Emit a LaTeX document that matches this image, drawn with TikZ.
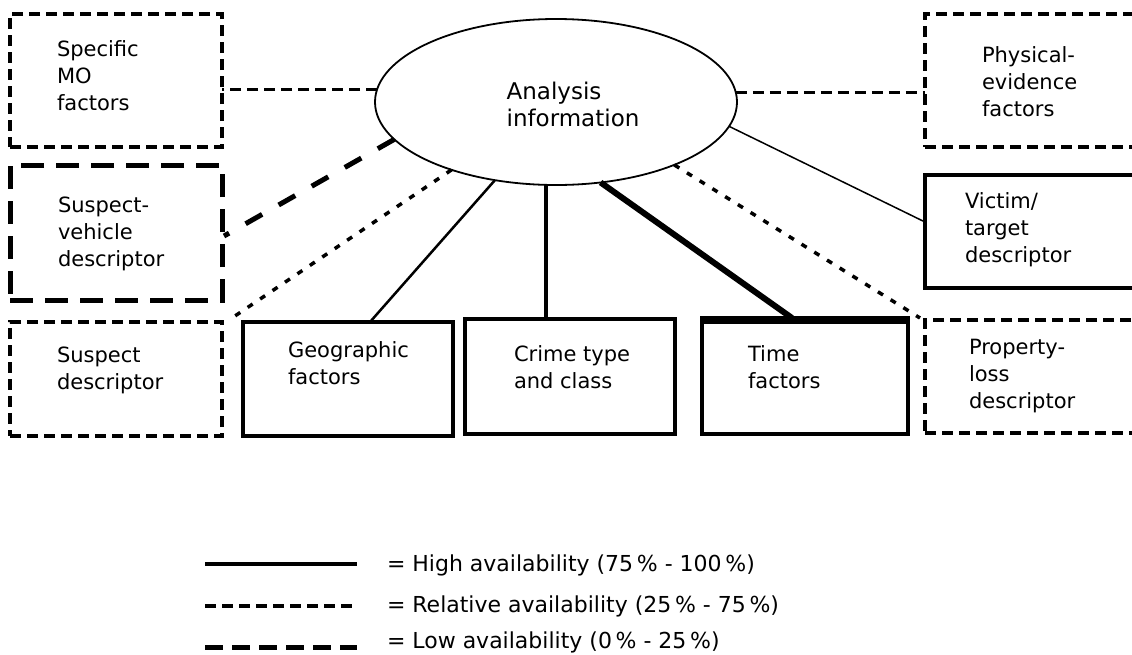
\documentclass[tikz,border=0pt]{standalone}
\usepackage{fontspec}
\setmainfont{DejaVu Sans}
\usetikzlibrary{shapes.geometric,calc}
\begin{document}
\begin{tikzpicture}[x=1pt,y=-1pt,
  every node/.style={inner sep=0pt, outer sep=0pt},
  boxtxt/.style={font=\fontsize{21}{27}\selectfont, align=left, anchor=west},
  elltxt/.style={font=\fontsize{23}{27}\selectfont, align=left},
  legtxt/.style={font=\fontsize{22}{27}\selectfont, anchor=west},
  solidbox/.style={draw, rectangle, line width=4pt},
  relbox/.style={draw, rectangle, line width=3.2pt, dash pattern=on 11pt off 6pt},
  lowbox/.style={draw, rectangle, line width=5pt, dash pattern=on 23pt off 12pt},
  relline/.style={line width=3.2pt, dash pattern=on 11pt off 6pt},
  reldiag/.style={line width=3.5pt, dash pattern=on 6pt off 9pt},
  lowline/.style={line width=5pt, dash pattern=on 19pt off 19pt},
  lowleg/.style={line width=5pt, dash pattern=on 18pt off 9pt},
  highline/.style={line width=4pt},
  thinline/.style={line width=1.5pt},
  geoline/.style={line width=2.5pt},
  crimeline/.style={line width=3.5pt},
  timeline/.style={line width=6pt}
]
\useasboundingbox (0,0) rectangle (1132,654);
\clip (0,0) rectangle (1132,654);
\fill[white] (0,0) rectangle (1132,654);

% central ellipse
\node[ellipse, draw, line width=1.8pt, minimum width=362pt, minimum height=166pt] (ell) at (556,102) {};
\node[elltxt] (ellT) at ($(ell.center)+(17,2)$) {Analysis\\information};

% boxes
\node[relbox, minimum width=212pt, minimum height=133pt] (mo) at (116,80.5) {};
\node[lowbox, minimum width=212pt, minimum height=135pt] (veh) at (116,232.5) {};
\node[relbox, minimum width=212pt, minimum height=114pt] (sus) at (116,379) {};
\node[solidbox, minimum width=210pt, minimum height=114pt] (geo) at (348,379) {};
\node[solidbox, minimum width=210pt, minimum height=115pt] (crime) at (570,376.5) {};
\node[solidbox, minimum width=206pt, minimum height=116pt] (time) at (805,376) {};
\node[relbox, minimum width=225pt, minimum height=133pt] (phys) at (1037.5,80.5) {};
\node[solidbox, minimum width=225pt, minimum height=113pt] (vic) at (1037.5,231.5) {};
\node[relbox, minimum width=225pt, minimum height=113pt] (prop) at (1037.5,376.5) {};
\draw[line width=8pt] ($(time.north west)+(-2,2)$) -- ($(time.north east)+(2,2)$);

% box texts
\node[boxtxt] (moT) at ($(mo.west)+(47,-5)$) {Specific\\MO\\factors};
\node[boxtxt] (vehT) at ($(veh.west)+(48,1)$) {Suspect-\\vehicle\\descriptor};
\node[boxtxt] (susT) at ($(sus.west)+(47,-9)$) {Suspect\\descriptor};
\node[boxtxt] (geoT) at ($(geo.west)+(45,-15.5)$) {Geographic\\factors};
\node[boxtxt] (crimeT) at ($(crime.west)+(49,-9)$) {Crime type\\and class};
\node[boxtxt] (timeT) at ($(time.west)+(46,-8.5)$) {Time\\factors};
\node[boxtxt] (physT) at ($(phys.west)+(57,1.5)$) {Physical-\\evidence\\factors};
\node[boxtxt] (vicT) at ($(vic.west)+(40,-2)$) {Victim/\\target\\descriptor};
\node[boxtxt] (propT) at ($(prop.west)+(44,0)$) {Property-\\loss\\descriptor};

% connectors
\draw[relline] (ell.176.5) -- (ell.176.5 -| mo.east);
\draw[relline] (ell.3.5) -- (ell.3.5 -| phys.west);
\draw[thinline] (ell.-8.6) -- ($(vic.west)+(0,-9.5)$);
\draw[lowline] (ell.193.3) -- ($(veh.east)+(2,3.5)$);
\draw[reldiag] (ell.213.4) -- ($(geo.north west)+(-11,-4)$);
\draw[geoline] (ell.232.7) -- ($(geo.north)+(22,0)$);
\draw[crimeline] (ell.263.8) -- (ell.263.8 |- crime.north);
\draw[timeline] (ell.-61.8) -- ($(time.north)+(-13,0)$);
\draw[reldiag] (ell.-28.4) -- ($(prop.north west)+(-5,-2)$);

% legend
\coordinate (l1a) at (205,564);
\coordinate (l1b) at (357,564);
\coordinate (l2a) at (205,606);
\coordinate (l2b) at (357,606);
\coordinate (l3a) at (205,647);
\coordinate (l3b) at (357,647);
\draw[highline] (l1a) -- (l1b);
\draw[relline] (l2a) -- (l2b);
\draw[lowleg] (l3a) -- (l3b);
\node[legtxt] (t1) at ($(l1b)+(30,1)$) {= High availability (75\,\% - 100\,\%)};
\node[legtxt] (t2) at ($(l2b)+(30,0)$) {= Relative availability (25\,\% - 75\,\%)};
\node[legtxt] (t3) at ($(l3b)+(30,-5)$) {= Low availability (0\,\% - 25\,\%)};
\end{tikzpicture}
\end{document}
